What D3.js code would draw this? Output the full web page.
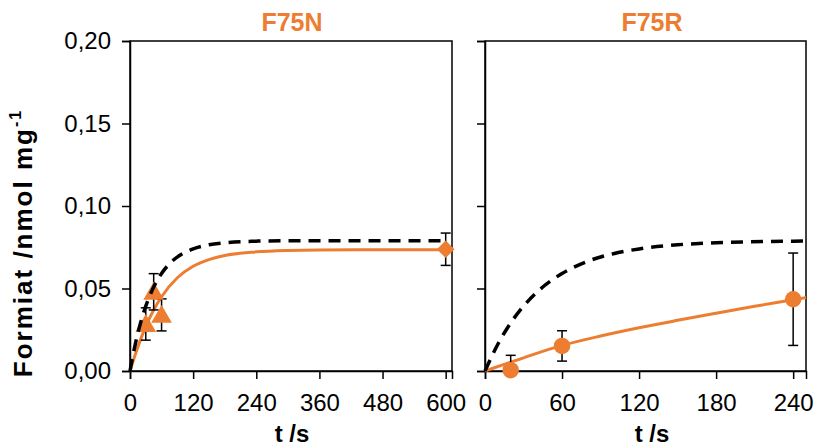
<!DOCTYPE html>
<html>
<head>
<meta charset="utf-8">
<script src="https://cdn.jsdelivr.net/npm/d3@7"></script>
<style>
  body { margin: 0; background: #fff; }
  svg { display: block; font-family: "Liberation Sans", Arial, sans-serif; }
</style>
</head>
<body>
<svg id="chart" width="816" height="448"></svg>
<script>
// measured points, F75N panel
const nTime = [30, 45, 60, 600]
const nValue = [0.0285, 0.048, 0.034, 0.0738]
const nError = [0.0098, 0.011, 0.0097, 0.0098]
const nMarker = ["triangle", "triangle", "triangle", "diamond"]

// measured points, F75R panel
const rTime = [20, 60, 240]
const rValue = [0.0005, 0.0152, 0.0435]
const rError = [0.009, 0.0092, 0.028]

// fitted curves
const nFitTime = [0, 10, 20, 30, 45, 60, 90, 120, 150, 180, 240, 300, 360, 480, 600]
const nFitValue = [0, 0.010, 0.019, 0.027, 0.037, 0.045, 0.0565, 0.0635, 0.0675, 0.0700, 0.0722, 0.0731, 0.0734, 0.0735, 0.0735]

const rFitTime = [0, 30, 60, 90, 120, 150, 180, 210, 240, 250]
const rFitValue = [0, 0.0080, 0.0155, 0.0212, 0.0262, 0.0307, 0.0350, 0.0392, 0.0432, 0.0445]

// dashed reference curve (same in both panels)
const refTime = [0, 10, 20, 30, 45, 60, 80, 100, 120, 150, 180, 240, 250, 300, 360, 480, 600]
const refValue = [0, 0.0162, 0.0291, 0.0393, 0.0509, 0.0591, 0.0665, 0.0711, 0.0740, 0.0765, 0.0777, 0.0787, 0.0788, 0.0789, 0.0790, 0.0790, 0.0790]

const yTicks = [0, 0.05, 0.10, 0.15, 0.20]
const nTicks = [0, 120, 240, 360, 480, 600]
const rTicks = [0, 60, 120, 180, 240]
const titles = ["F75N", "F75R"]

const orange = "#ED7D31"
const svg = d3.select("#chart")

const y = d3.scaleLinear().domain([0, 0.2]).range([371, 41])
const fmt = d => d3.format(".2f")(d).replace(".", ",")

const panels = [
    { title: titles[0], x: d3.scaleLinear().domain([0, 612]).range([130, 452]), ticks: nTicks, labels: true,
      time: nTime, value: nValue, error: nError, marker: nMarker,
      fitT: nFitTime, fitV: nFitValue, refMax: 600, titleX: 292 },
    { title: titles[1], x: d3.scaleLinear().domain([0, 250]).range([485, 806]), ticks: rTicks, labels: false,
      time: rTime, value: rValue, error: rError, marker: rTime.map(() => "circle"),
      fitT: rFitTime, fitV: rFitValue, refMax: 250, titleX: 652 }
]

panels.forEach(function(p) {

    const g = svg.append("g")
    const x = p.x
    const [x0, x1] = x.range()

    // plot area frame
    g.append("rect")
        .attr("x", x0).attr("y", 41)
        .attr("width", x1 - x0).attr("height", 330)
        .attr("fill", "none").attr("stroke", "#000").attr("stroke-width", 1.5)

    const yAxis = g.append("g")
        .attr("transform", `translate(${x0},0)`)
        .call(d3.axisLeft(y).tickValues(yTicks).tickSize(8).tickFormat(p.labels ? fmt : ""))
    const xAxis = g.append("g")
        .attr("transform", "translate(0,371)")
        .call(d3.axisBottom(x).tickValues(p.ticks).tickSize(8).tickFormat(d3.format("d")))

    ;[yAxis, xAxis].forEach(a => {
        a.select(".domain").attr("stroke", "#000").attr("stroke-width", 1.5)
        a.selectAll(".tick line").attr("stroke", "#000").attr("stroke-width", 1.5)
        a.selectAll("text").attr("font-size", 24).attr("fill", "#000").attr("font-family", "Liberation Sans, Arial, sans-serif")
    })
    yAxis.selectAll("text").attr("x", -19)
    xAxis.selectAll("text").attr("y", 23)

    // titles
    g.append("text")
        .attr("x", p.titleX).attr("y", 31)
        .attr("text-anchor", "middle")
        .attr("font-size", 25).attr("font-weight", "bold")
        .attr("fill", orange)
        .text(p.title)

    g.append("text")
        .attr("x", p.titleX).attr("y", 442)
        .attr("text-anchor", "middle")
        .attr("font-size", 24).attr("font-weight", "bold")
        .text("t /s")

    const line = d3.line()
        .x(d => x(d[0])).y(d => y(d[1]))
        .curve(d3.curveMonotoneX)

    // fitted orange curve
    g.append("path")
        .datum(d3.zip(p.fitT, p.fitV))
        .attr("d", line)
        .attr("fill", "none").attr("stroke", orange).attr("stroke-width", 3)

    // error bars
    const pts = p.time.map((t, i) => ({ t: t, v: p.value[i], e: p.error[i], m: p.marker[i] }))
    const eb = g.append("g").attr("stroke", "#000").attr("stroke-width", 1.5)
    pts.forEach(d => {
        const lo = y(Math.max(0, d.v - d.e)), hi = y(d.v + d.e), cx = x(d.t)
        eb.append("line").attr("x1", cx).attr("x2", cx).attr("y1", lo).attr("y2", hi)
        eb.append("line").attr("x1", cx - 5).attr("x2", cx + 5).attr("y1", lo).attr("y2", lo)
        eb.append("line").attr("x1", cx - 5).attr("x2", cx + 5).attr("y1", hi).attr("y2", hi)
    })

    // markers
    const sym = { triangle: d3.symbolTriangle, diamond: d3.symbolSquare, circle: d3.symbolCircle }
    const size = { triangle: 185, diamond: 155, circle: 215 }
    g.selectAll(".marker")
        .data(pts)
        .join("path")
        .attr("class", "marker")
        .attr("transform", d => `translate(${x(d.t)},${y(d.v) + (d.m === "triangle" ? 2 : 0)})` + (d.m === "diamond" ? " rotate(45)" : ""))
        .attr("d", d => d3.symbol().type(sym[d.m]).size(size[d.m])())
        .attr("fill", orange)

    // dashed reference curve
    const ref = d3.zip(refTime, refValue).filter(d => d[0] <= p.refMax)
    g.append("path")
        .datum(ref)
        .attr("d", line)
        .attr("fill", "none").attr("stroke", "#000").attr("stroke-width", 3.5)
        .attr("stroke-dasharray", "12,8")
})

// y axis title
svg.append("text")
    .attr("transform", "translate(32,243) rotate(-90)")
    .attr("text-anchor", "middle")
    .attr("font-size", 26).attr("font-weight", "bold")
    .attr("letter-spacing", 2)
    .text("Formiat /nmol mg")
    .append("tspan")
    .attr("font-size", 16).attr("dy", -11)
    .text("-1")
</script>
</body>
</html>
